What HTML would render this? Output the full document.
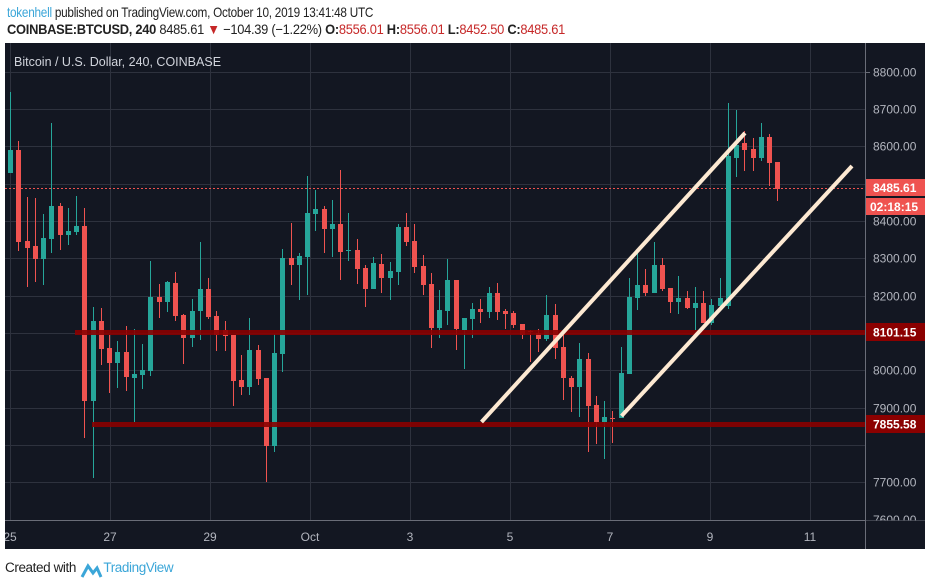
<!DOCTYPE html>
<html><head><meta charset="utf-8"><style>
body{margin:0;width:932px;height:586px;background:#fff;overflow:hidden;font-family:"Liberation Sans",sans-serif;position:relative}
.h1{position:absolute;left:7px;top:4px;font-size:14px;color:#222;letter-spacing:-0.3px;transform:scaleX(0.84);transform-origin:0 0;white-space:nowrap}
.h2{position:absolute;left:7px;top:21px;font-size:14px;color:#222;letter-spacing:-0.3px;transform:scaleX(0.92);transform-origin:0 0;white-space:nowrap}
.r{color:#c62828}
.ft{position:absolute;left:5px;top:560px;font-size:13.5px;color:#222;letter-spacing:-0.4px}
</style></head><body>
<div class="h1"><span style="color:#3ba6d8">tokenhell</span> published on TradingView.com, October 10, 2019 13:41:48 UTC</div>
<div class="h2"><b>COINBASE:BTCUSD, 240</b> 8485.61 <span class="r">▼</span> −104.39 (−1.22%) <b>O:</b><span class="r">8556.01</span> <b>H:</b><span class="r">8556.01</span> <b>L:</b><span class="r">8452.50</span> <b>C:</b><span class="r">8485.61</span></div>
<svg style="position:absolute;left:0;top:0" width="932" height="586" xmlns="http://www.w3.org/2000/svg">
<rect x="5" y="43" width="920" height="506" fill="#131722"/>
<g stroke="#2e323e" stroke-width="1">
<line x1="5" x2="865" y1="72.5" y2="72.5"/><line x1="5" x2="865" y1="109.5" y2="109.5"/><line x1="5" x2="865" y1="146.5" y2="146.5"/><line x1="5" x2="865" y1="184.5" y2="184.5"/><line x1="5" x2="865" y1="221.5" y2="221.5"/><line x1="5" x2="865" y1="258.5" y2="258.5"/><line x1="5" x2="865" y1="296.5" y2="296.5"/><line x1="5" x2="865" y1="333.5" y2="333.5"/><line x1="5" x2="865" y1="370.5" y2="370.5"/><line x1="5" x2="865" y1="408.5" y2="408.5"/><line x1="5" x2="865" y1="445.5" y2="445.5"/><line x1="5" x2="865" y1="482.5" y2="482.5"/>
<line x1="10.5" x2="10.5" y1="43" y2="520"/><line x1="110.5" x2="110.5" y1="43" y2="520"/><line x1="210.5" x2="210.5" y1="43" y2="520"/><line x1="310.5" x2="310.5" y1="43" y2="520"/><line x1="410.5" x2="410.5" y1="43" y2="520"/><line x1="510.5" x2="510.5" y1="43" y2="520"/><line x1="610.5" x2="610.5" y1="43" y2="520"/><line x1="710.5" x2="710.5" y1="43" y2="520"/><line x1="810.5" x2="810.5" y1="43" y2="520"/>
</g>
<line x1="865.5" x2="865.5" y1="43" y2="549" stroke="#6a6d78"/>
<line x1="5" x2="925" y1="520.5" y2="520.5" stroke="#6a6d78"/>
<text x="14" y="66" fill="#d1d4dc" font-size="12.5">Bitcoin / U.S. Dollar, 240, COINBASE</text>
<line x1="5" x2="865" y1="188.5" y2="188.5" stroke="#ef5350" stroke-dasharray="2,2"/>
<g id="g" fill="#26a69a" stroke="#26a69a">
<line x1="10.5" x2="10.5" y1="92" y2="173"/><rect x="8" y="150" width="5" height="23" stroke="none"/>
<line x1="43.5" x2="43.5" y1="214" y2="285"/><rect x="41" y="238" width="5" height="21" stroke="none"/>
<line x1="51.5" x2="51.5" y1="123" y2="253"/><rect x="49" y="206" width="5" height="33" stroke="none"/>
<line x1="68.5" x2="68.5" y1="208" y2="245"/><rect x="66" y="231" width="5" height="4" stroke="none"/>
<line x1="76.5" x2="76.5" y1="196" y2="235"/><rect x="74" y="226" width="5" height="6" stroke="none"/>
<line x1="93.5" x2="93.5" y1="307" y2="478"/><rect x="91" y="321" width="5" height="80" stroke="none"/>
<line x1="117.5" x2="117.5" y1="341" y2="388"/><rect x="115" y="352" width="5" height="11" stroke="none"/>
<line x1="134.5" x2="134.5" y1="329" y2="422"/><rect x="132" y="374" width="5" height="4" stroke="none"/>
<line x1="142.5" x2="142.5" y1="344" y2="389"/><rect x="140" y="370" width="5" height="5" stroke="none"/>
<line x1="150.5" x2="150.5" y1="261" y2="376"/><rect x="148" y="297" width="5" height="74" stroke="none"/>
<line x1="167.5" x2="167.5" y1="281" y2="312"/><rect x="165" y="282" width="5" height="20" stroke="none"/>
<line x1="192.5" x2="192.5" y1="299" y2="347"/><rect x="190" y="311" width="5" height="27" stroke="none"/>
<line x1="200.5" x2="200.5" y1="242" y2="340"/><rect x="198" y="289" width="5" height="22" stroke="none"/>
<line x1="249.5" x2="249.5" y1="318" y2="395"/><rect x="247" y="350" width="5" height="37" stroke="none"/>
<line x1="274.5" x2="274.5" y1="334" y2="452"/><rect x="272" y="353" width="5" height="93" stroke="none"/>
<line x1="282.5" x2="282.5" y1="249" y2="372"/><rect x="280" y="258" width="5" height="96" stroke="none"/>
<line x1="299.5" x2="299.5" y1="253" y2="300"/><rect x="297" y="256" width="5" height="9" stroke="none"/>
<line x1="307.5" x2="307.5" y1="176" y2="295"/><rect x="305" y="213" width="5" height="44" stroke="none"/>
<line x1="315.5" x2="315.5" y1="190" y2="231"/><rect x="313" y="209" width="5" height="5" stroke="none"/>
<line x1="332.5" x2="332.5" y1="200" y2="257"/><rect x="330" y="224" width="5" height="5" stroke="none"/>
<line x1="348.5" x2="348.5" y1="213" y2="261"/><rect x="346" y="250" width="5" height="1" stroke="none"/>
<line x1="373.5" x2="373.5" y1="257" y2="289"/><rect x="371" y="263" width="5" height="26" stroke="none"/>
<line x1="390.5" x2="390.5" y1="262" y2="300"/><rect x="388" y="271" width="5" height="7" stroke="none"/>
<line x1="398.5" x2="398.5" y1="224" y2="285"/><rect x="396" y="227" width="5" height="45" stroke="none"/>
<line x1="439.5" x2="439.5" y1="290" y2="338"/><rect x="437" y="310" width="5" height="18" stroke="none"/>
<line x1="447.5" x2="447.5" y1="259" y2="325"/><rect x="445" y="280" width="5" height="31" stroke="none"/>
<line x1="464.5" x2="464.5" y1="318" y2="369"/><rect x="462" y="318" width="5" height="12" stroke="none"/>
<line x1="472.5" x2="472.5" y1="303" y2="338"/><rect x="470" y="309" width="5" height="10" stroke="none"/>
<line x1="489.5" x2="489.5" y1="287" y2="318"/><rect x="487" y="293" width="5" height="19" stroke="none"/>
<line x1="546.5" x2="546.5" y1="295" y2="341"/><rect x="544" y="315" width="5" height="24" stroke="none"/>
<line x1="579.5" x2="579.5" y1="343" y2="417"/><rect x="577" y="359" width="5" height="28" stroke="none"/>
<line x1="604.5" x2="604.5" y1="401" y2="459"/><rect x="602" y="417" width="5" height="5" stroke="none"/>
<line x1="621.5" x2="621.5" y1="347" y2="418"/><rect x="619" y="373" width="5" height="45" stroke="none"/>
<line x1="629.5" x2="629.5" y1="278" y2="374"/><rect x="627" y="297" width="5" height="77" stroke="none"/>
<line x1="637.5" x2="637.5" y1="253" y2="310"/><rect x="635" y="285" width="5" height="13" stroke="none"/>
<line x1="654.5" x2="654.5" y1="242" y2="293"/><rect x="652" y="265" width="5" height="28" stroke="none"/>
<line x1="678.5" x2="678.5" y1="276" y2="314"/><rect x="676" y="298" width="5" height="4" stroke="none"/>
<line x1="695.5" x2="695.5" y1="287" y2="330"/><rect x="693" y="303" width="5" height="5" stroke="none"/>
<line x1="711.5" x2="711.5" y1="299" y2="325"/><rect x="709" y="305" width="5" height="18" stroke="none"/>
<line x1="720.5" x2="720.5" y1="278" y2="306"/><rect x="718" y="298" width="5" height="8" stroke="none"/>
<line x1="728.5" x2="728.5" y1="103" y2="309"/><rect x="726" y="156" width="5" height="150" stroke="none"/>
<line x1="736.5" x2="736.5" y1="110" y2="177"/><rect x="734" y="145" width="5" height="13" stroke="none"/>
<line x1="761.5" x2="761.5" y1="123" y2="161"/><rect x="759" y="137" width="5" height="21" stroke="none"/>
</g>
<g fill="#ef5350" stroke="#ef5350">
<line x1="18.5" x2="18.5" y1="141" y2="251"/><rect x="16" y="150" width="5" height="92" stroke="none"/>
<line x1="27.5" x2="27.5" y1="197" y2="287"/><rect x="25" y="241" width="5" height="7" stroke="none"/>
<line x1="35.5" x2="35.5" y1="198" y2="282"/><rect x="33" y="246" width="5" height="13" stroke="none"/>
<line x1="60.5" x2="60.5" y1="203" y2="250"/><rect x="58" y="206" width="5" height="29" stroke="none"/>
<line x1="84.5" x2="84.5" y1="208" y2="438"/><rect x="82" y="226" width="5" height="175" stroke="none"/>
<line x1="101.5" x2="101.5" y1="308" y2="365"/><rect x="99" y="321" width="5" height="28" stroke="none"/>
<line x1="109.5" x2="109.5" y1="335" y2="393"/><rect x="107" y="348" width="5" height="15" stroke="none"/>
<line x1="126.5" x2="126.5" y1="326" y2="391"/><rect x="124" y="352" width="5" height="25" stroke="none"/>
<line x1="159.5" x2="159.5" y1="284" y2="318"/><rect x="157" y="297" width="5" height="5" stroke="none"/>
<line x1="175.5" x2="175.5" y1="272" y2="321"/><rect x="173" y="283" width="5" height="33" stroke="none"/>
<line x1="183.5" x2="183.5" y1="314" y2="364"/><rect x="181" y="315" width="5" height="23" stroke="none"/>
<line x1="208.5" x2="208.5" y1="278" y2="319"/><rect x="206" y="289" width="5" height="28" stroke="none"/>
<line x1="216.5" x2="216.5" y1="311" y2="351"/><rect x="214" y="316" width="5" height="19" stroke="none"/>
<line x1="225.5" x2="225.5" y1="321" y2="351"/><rect x="223" y="330" width="5" height="6" stroke="none"/>
<line x1="233.5" x2="233.5" y1="335" y2="406"/><rect x="231" y="335" width="5" height="46" stroke="none"/>
<line x1="241.5" x2="241.5" y1="355" y2="395"/><rect x="239" y="380" width="5" height="7" stroke="none"/>
<line x1="258.5" x2="258.5" y1="345" y2="385"/><rect x="256" y="350" width="5" height="29" stroke="none"/>
<line x1="266.5" x2="266.5" y1="378" y2="482"/><rect x="264" y="378" width="5" height="68" stroke="none"/>
<line x1="291.5" x2="291.5" y1="223" y2="285"/><rect x="289" y="258" width="5" height="7" stroke="none"/>
<line x1="324.5" x2="324.5" y1="206" y2="253"/><rect x="322" y="209" width="5" height="20" stroke="none"/>
<line x1="340.5" x2="340.5" y1="170" y2="280"/><rect x="338" y="224" width="5" height="28" stroke="none"/>
<line x1="357.5" x2="357.5" y1="239" y2="284"/><rect x="355" y="250" width="5" height="19" stroke="none"/>
<line x1="365.5" x2="365.5" y1="265" y2="307"/><rect x="363" y="268" width="5" height="21" stroke="none"/>
<line x1="381.5" x2="381.5" y1="254" y2="293"/><rect x="379" y="264" width="5" height="14" stroke="none"/>
<line x1="406.5" x2="406.5" y1="213" y2="246"/><rect x="404" y="227" width="5" height="15" stroke="none"/>
<line x1="414.5" x2="414.5" y1="224" y2="273"/><rect x="412" y="241" width="5" height="26" stroke="none"/>
<line x1="423.5" x2="423.5" y1="255" y2="295"/><rect x="421" y="266" width="5" height="19" stroke="none"/>
<line x1="431.5" x2="431.5" y1="273" y2="348"/><rect x="429" y="284" width="5" height="44" stroke="none"/>
<line x1="456.5" x2="456.5" y1="280" y2="350"/><rect x="454" y="280" width="5" height="49" stroke="none"/>
<line x1="480.5" x2="480.5" y1="299" y2="323"/><rect x="478" y="309" width="5" height="3" stroke="none"/>
<line x1="497.5" x2="497.5" y1="283" y2="320"/><rect x="495" y="293" width="5" height="19" stroke="none"/>
<line x1="505.5" x2="505.5" y1="309" y2="329"/><rect x="503" y="311" width="5" height="3" stroke="none"/>
<line x1="513.5" x2="513.5" y1="311" y2="328"/><rect x="511" y="313" width="5" height="12" stroke="none"/>
<line x1="522.5" x2="522.5" y1="324" y2="339"/><rect x="520" y="324" width="5" height="11" stroke="none"/>
<line x1="530.5" x2="530.5" y1="330" y2="362"/><rect x="528" y="331" width="5" height="1" stroke="none"/>
<line x1="538.5" x2="538.5" y1="329" y2="352"/><rect x="536" y="333" width="5" height="6" stroke="none"/>
<line x1="555.5" x2="555.5" y1="304" y2="359"/><rect x="553" y="315" width="5" height="33" stroke="none"/>
<line x1="563.5" x2="563.5" y1="335" y2="400"/><rect x="561" y="347" width="5" height="31" stroke="none"/>
<line x1="571.5" x2="571.5" y1="376" y2="412"/><rect x="569" y="378" width="5" height="9" stroke="none"/>
<line x1="588.5" x2="588.5" y1="353" y2="452"/><rect x="586" y="359" width="5" height="47" stroke="none"/>
<line x1="596.5" x2="596.5" y1="396" y2="444"/><rect x="594" y="405" width="5" height="17" stroke="none"/>
<line x1="612.5" x2="612.5" y1="411" y2="443"/><rect x="610" y="418" width="5" height="1" stroke="none"/>
<line x1="645.5" x2="645.5" y1="269" y2="296"/><rect x="643" y="285" width="5" height="8" stroke="none"/>
<line x1="662.5" x2="662.5" y1="258" y2="291"/><rect x="660" y="265" width="5" height="24" stroke="none"/>
<line x1="670.5" x2="670.5" y1="288" y2="313"/><rect x="668" y="288" width="5" height="14" stroke="none"/>
<line x1="687.5" x2="687.5" y1="291" y2="309"/><rect x="685" y="298" width="5" height="10" stroke="none"/>
<line x1="703.5" x2="703.5" y1="291" y2="323"/><rect x="701" y="303" width="5" height="20" stroke="none"/>
<line x1="744.5" x2="744.5" y1="131" y2="171"/><rect x="742" y="143" width="5" height="7" stroke="none"/>
<line x1="753.5" x2="753.5" y1="138" y2="171"/><rect x="751" y="149" width="5" height="9" stroke="none"/>
<line x1="769.5" x2="769.5" y1="134" y2="186"/><rect x="767" y="137" width="5" height="26" stroke="none"/>
<line x1="777.5" x2="777.5" y1="162" y2="201"/><rect x="775" y="162" width="5" height="27" stroke="none"/>
</g>
<rect x="75" y="330" width="790" height="5" fill="#8b0000" opacity="0.9"/>
<rect x="92" y="422" width="773" height="5" fill="#8b0000" opacity="0.9"/>
<g stroke="#fde9d2" stroke-width="4" stroke-linecap="butt">
<line x1="481.5" y1="422" x2="745" y2="133"/>
<line x1="621.5" y1="416" x2="852" y2="166"/>
</g>
<g fill="#b2b5be" font-size="12" text-anchor="start">
<line x1="866" x2="870" y1="72.5" y2="72.5" stroke="#6a6d78"/>
<text x="873" y="76.5">8800.00</text><text x="873" y="113.5">8700.00</text><text x="873" y="150.5">8600.00</text><text x="873" y="225.5">8400.00</text><text x="873" y="262.5">8300.00</text><text x="873" y="300.5">8200.00</text><text x="873" y="374.5">8000.00</text><text x="873" y="412.5">7900.00</text><text x="873" y="486.5">7700.00</text><text x="873" y="524">7600.00</text>
</g>
<rect x="866" y="520.5" width="59" height="28" fill="#131722"/>
<line x1="865.5" x2="865.5" y1="520" y2="549" stroke="#6a6d78"/>
<rect x="866" y="179" width="59" height="17" fill="#ef5350"/>
<text x="873" y="192" fill="#fff" font-size="12" font-weight="bold">8485.61</text>
<rect x="866" y="198" width="59" height="17" fill="#ef5350"/>
<text x="870" y="211" fill="#fff" font-size="12" font-weight="bold">02:18:15</text>
<rect x="866" y="323" width="59" height="18" fill="#8b0000"/>
<text x="873" y="336.5" fill="#fff" font-size="12" font-weight="bold">8101.15</text>
<rect x="866" y="415" width="59" height="18" fill="#8b0000"/>
<text x="873" y="428.5" fill="#fff" font-size="12" font-weight="bold">7855.58</text>
<g fill="#b2b5be" font-size="12" text-anchor="middle">
<text x="10" y="541">25</text><text x="110" y="541">27</text><text x="210" y="541">29</text><text x="310" y="541">Oct</text><text x="410" y="541">3</text><text x="510" y="541">5</text><text x="610" y="541">7</text><text x="710" y="541">9</text><text x="810" y="541">11</text>
</g>
<rect x="0" y="43" width="5" height="506" fill="#fff"/>
<path d="M82 577 L88 566 L93 573 L97 568 L101 577" fill="none" stroke="#3ba6d8" stroke-width="3"/>
</svg>
<div class="ft">Created with <span style="display:inline-block;width:24px"></span><span style="color:#3ba6d8">TradingView</span></div>
</body></html>
